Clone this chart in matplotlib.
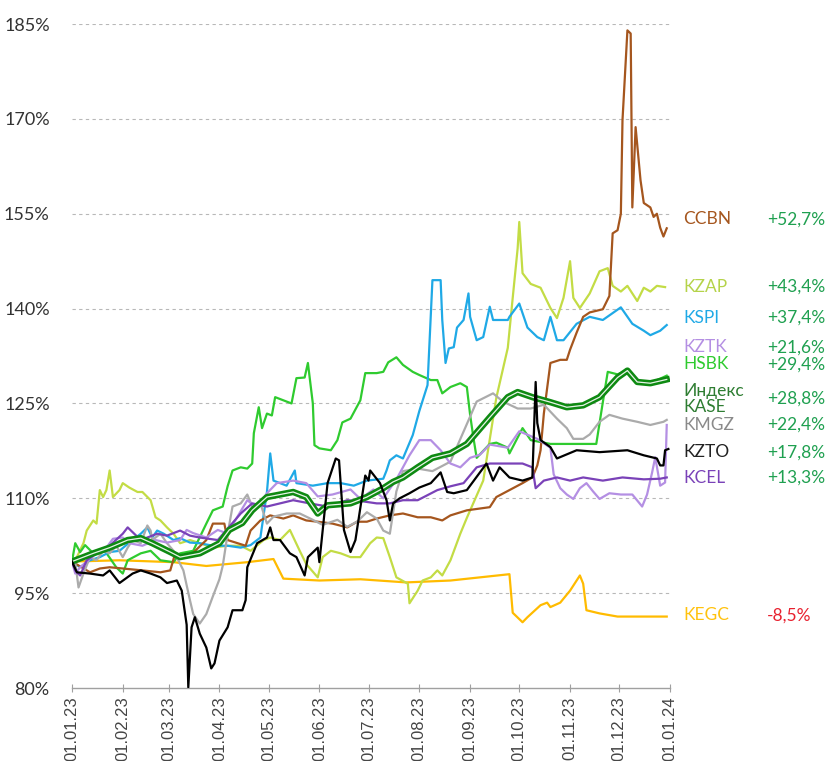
import numpy as np
import pandas as pd
import matplotlib
matplotlib.use("Agg")
import matplotlib.pyplot as plt
import matplotlib.dates as mdates
import matplotlib.transforms as mtransforms

# (days since 01.01.23, index level in %)
CCBN = [(0, 100), (11, 98.3), (17, 98.9), (23, 99.1), (43, 98.6), (54, 98.3), (60, 98.6),
        (63, 101.3), (65, 100.7), (72, 100.9), (82, 103.4), (86, 106.0), (93, 106.0),
        (95, 103.4), (106, 102.5), (109, 104.9), (115, 106.5), (121, 107.3), (129, 106.8),
        (135, 107.3), (143, 106.5), (150, 106.3), (159, 106.0), (168, 105.4), (174, 106.3),
        (180, 106.3), (186, 106.8), (194, 107.3), (202, 107.6), (211, 107.0), (219, 107.0),
        (226, 106.5), (231, 107.3), (241, 108.1), (255, 108.6), (259, 110.2), (267, 111.3),
        (275, 112.4), (281, 113.3), (284, 115.2), (286, 117.6), (288, 123.4), (292, 131.4),
        (298, 131.9), (302, 131.9), (304, 133.5), (308, 136.2), (312, 138.7), (316, 139.4),
        (324, 139.9), (328, 142.0), (330, 151.9), (333, 152.4), (335, 155.0), (336, 169.8),
        (339, 184.0), (341, 183.5), (342, 156.0), (344, 168.7), (347, 160.3), (349, 156.7),
        (353, 156.0), (355, 154.5), (357, 155.0), (359, 152.8), (361, 151.4), (363, 152.7)]

KZAP = [(0, 100), (3, 100.7), (7, 102.9), (9, 104.9), (13, 106.5), (15, 106.0), (17, 111.3),
        (19, 110.2), (21, 111.3), (23, 114.4), (25, 110.2), (29, 111.3), (31, 112.4),
        (35, 111.7), (40, 111.0), (43, 111.0), (48, 109.7), (51, 107.0), (54, 106.5),
        (58, 105.4), (62, 104.4), (66, 102.9), (72, 103.4), (78, 102.9), (86, 102.2),
        (95, 102.5), (103, 102.5), (109, 101.7), (117, 103.4), (121, 103.8), (127, 103.4),
        (133, 105.0), (139, 101.7), (143, 99.6), (150, 97.5), (153, 100.7), (158, 101.7),
        (164, 101.3), (170, 100.7), (176, 100.7), (182, 102.9), (186, 103.8), (190, 103.7),
        (194, 100.7), (198, 97.5), (205, 96.5), (206, 93.4), (211, 95.4), (214, 97.0),
        (219, 97.5), (223, 98.6), (226, 97.8), (231, 100.2), (237, 104.4), (241, 106.9),
        (251, 112.8), (259, 125.9), (266, 133.8), (269, 141.7), (272, 149.5), (273, 153.7),
        (275, 145.6), (280, 143.9), (286, 143.3), (292, 140.1), (296, 138.5), (300, 141.7),
        (304, 147.5), (306, 141.7), (310, 140.1), (316, 142.4), (322, 145.9), (327, 146.4),
        (330, 143.6), (335, 142.7), (339, 143.6), (345, 141.2), (349, 143.3), (353, 142.7),
        (357, 143.6), (362, 143.4)]

KSPI = [(0, 100), (5, 99.1), (11, 100.2), (17, 100.7), (23, 101.5), (29, 101.7), (35, 103.0),
        (42, 104.4), (46, 105.4), (49, 103.8), (52, 104.9), (56, 104.4), (62, 103.4),
        (66, 103.7), (72, 103.0), (78, 102.9), (86, 102.5), (95, 102.5), (103, 102.2),
        (109, 102.6), (115, 103.8), (119, 111.0), (121, 117.1), (123, 112.8), (131, 112.0),
        (136, 114.4), (137, 112.4), (147, 112.0), (156, 112.4), (164, 112.4), (172, 112.0),
        (180, 112.8), (190, 113.1), (192, 114.4), (194, 116.0), (198, 116.8), (202, 116.3),
        (208, 120.0), (212, 123.8), (217, 127.9), (220, 144.5), (225, 144.5), (226, 138.2),
        (228, 131.4), (230, 133.7), (233, 133.9), (235, 137.0), (239, 138.2), (242, 142.4),
        (243, 138.7), (247, 135.0), (251, 135.5), (255, 140.3), (257, 138.2), (266, 138.2),
        (267, 138.7), (273, 140.8), (278, 137.0), (284, 135.5), (288, 135.0), (292, 138.7),
        (296, 135.0), (300, 135.0), (308, 137.6), (316, 138.7), (324, 138.2), (335, 140.2),
        (342, 137.6), (349, 136.5), (353, 135.8), (359, 136.5), (363, 137.4)]

KZTK = [(0, 100), (2, 98.1), (5, 99.1), (13, 100.9), (21, 102.2), (25, 103.6), (31, 103.8),
        (35, 102.9), (43, 102.5), (51, 103.4), (58, 103.0), (66, 103.4), (70, 105.0),
        (74, 104.5), (82, 103.8), (89, 105.0), (95, 104.4), (101, 107.1), (107, 109.7),
        (113, 108.5), (119, 110.8), (125, 112.4), (135, 112.8), (143, 112.4), (150, 110.3),
        (159, 110.6), (170, 111.4), (176, 109.9), (184, 111.4), (190, 110.0), (198, 113.0),
        (206, 116.8), (212, 119.2), (219, 119.2), (225, 117.6), (231, 115.5), (237, 114.9),
        (243, 116.4), (249, 116.9), (255, 118.5), (266, 118.0), (273, 120.6), (284, 119.4),
        (292, 118.0), (294, 113.8), (298, 111.6), (302, 110.6), (306, 109.9), (310, 111.6),
        (314, 112.4), (318, 111.1), (322, 109.9), (328, 110.8), (335, 110.6), (342, 110.6),
        (348, 108.7), (351, 110.6), (354, 114.0), (356, 116.5), (359, 112.0), (362, 112.5),
        (363, 121.6)]

HSBK = [(0, 100), (2, 102.9), (5, 101.5), (8, 102.6), (13, 101.3), (19, 102.1), (27, 99.1),
        (31, 98.1), (34, 100.2), (42, 101.3), (48, 101.7), (54, 100.2), (62, 99.9),
        (66, 101.3), (74, 101.7), (82, 106.0), (86, 108.1), (92, 108.7), (95, 111.9),
        (98, 114.4), (103, 114.9), (107, 114.7), (110, 115.5), (111, 120.3), (114, 124.4),
        (116, 121.1), (119, 123.4), (122, 123.1), (124, 126.0), (129, 125.5), (134, 125.0),
        (137, 129.0), (142, 129.1), (144, 131.4), (147, 125.0), (148, 118.4), (151, 117.9),
        (158, 117.6), (162, 119.2), (165, 122.0), (170, 122.6), (176, 125.5), (179, 129.8),
        (186, 129.8), (190, 130.0), (193, 131.5), (198, 132.3), (202, 131.1), (208, 130.0),
        (212, 129.5), (219, 128.7), (223, 128.7), (226, 126.6), (231, 127.6), (237, 128.2),
        (241, 127.6), (243, 123.2), (245, 119.6), (247, 116.4), (255, 118.6), (259, 118.8),
        (266, 118.0), (267, 117.1), (272, 119.6), (275, 121.1), (280, 119.2), (292, 118.6),
        (307, 118.6), (320, 118.6), (324, 125.2), (327, 130.0), (333, 129.6), (339, 130.3),
        (345, 128.4), (353, 128.2), (363, 129.4)]

KASE = [(0, 100), (13, 101.3), (23, 102.2), (34, 103.4), (42, 103.7), (49, 102.9), (60, 101.5),
        (66, 100.7), (78, 101.3), (90, 102.9), (96, 105.0), (104, 106.1), (110, 108.1),
        (119, 110.2), (135, 111.0), (143, 110.2), (150, 107.6), (156, 108.9), (170, 109.2),
        (180, 110.2), (190, 111.6), (196, 112.6), (202, 113.3), (211, 114.9), (220, 116.4),
        (231, 117.1), (241, 118.6), (255, 122.8), (266, 126.0), (272, 126.8), (281, 126.0),
        (292, 125.2), (302, 124.4), (312, 124.7), (322, 126.0), (333, 129.1), (339, 130.2),
        (345, 128.4), (353, 128.2), (363, 128.8)]

KMGZ = [(0, 100), (2, 99.9), (4, 95.9), (7, 98.1), (11, 100.7), (15, 100.2), (19, 101.7),
        (23, 101.3), (27, 102.5), (31, 100.7), (34, 102.2), (37, 103.4), (42, 102.9),
        (46, 105.7), (48, 104.9), (49, 103.4), (54, 104.4), (58, 102.9), (62, 101.7),
        (68, 98.6), (72, 93.9), (74, 91.7), (78, 90.2), (82, 91.7), (86, 94.5), (90, 97.2),
        (92, 99.3), (95, 104.4), (98, 108.7), (103, 109.2), (107, 110.6), (110, 108.7),
        (115, 109.2), (119, 106.0), (123, 107.1), (131, 107.6), (139, 107.6), (147, 106.6),
        (153, 105.8), (162, 106.6), (168, 105.5), (174, 106.3), (180, 107.8), (186, 106.8),
        (190, 104.9), (194, 104.4), (198, 111.1), (202, 114.3), (211, 114.7), (220, 114.3),
        (231, 115.8), (247, 125.3), (257, 126.6), (263, 125.3), (272, 124.2), (280, 124.2),
        (288, 124.8), (296, 122.6), (302, 121.1), (306, 119.4), (312, 119.4), (316, 120.1),
        (322, 122.1), (328, 123.2), (336, 122.6), (345, 122.1), (353, 121.6), (361, 122.1),
        (363, 122.4)]

KZTO = [(0, 100), (3, 98.3), (11, 98.1), (19, 97.8), (23, 98.6), (29, 96.6), (37, 98.1),
        (42, 98.6), (48, 98.1), (54, 97.5), (58, 96.6), (64, 97.0), (67, 95.4), (70, 90.0),
        (71, 80.1), (73, 89.6), (75, 91.2), (78, 88.6), (82, 86.4), (85, 83.1), (87, 83.9),
        (90, 87.5), (95, 89.6), (98, 92.3), (104, 92.3), (106, 93.9), (107, 99.1),
        (113, 102.9), (119, 103.8), (121, 105.4), (123, 103.4), (127, 103.4), (133, 101.3),
        (137, 100.7), (142, 97.8), (144, 100.7), (150, 102.2), (151, 99.9), (156, 112.4),
        (161, 116.3), (163, 116.0), (166, 105.0), (170, 101.5), (173, 103.4), (179, 113.6),
        (181, 112.8), (182, 114.4), (188, 112.4), (192, 109.7), (194, 106.5), (196, 109.2),
        (200, 110.0), (206, 110.8), (212, 111.7), (219, 112.4), (225, 114.1), (229, 111.0),
        (233, 110.8), (241, 111.3), (253, 115.5), (257, 112.8), (261, 114.9), (267, 113.3),
        (275, 112.8), (281, 113.3), (283, 128.4), (284, 121.9), (286, 119.2), (292, 118.1),
        (296, 116.3), (308, 117.6), (322, 117.3), (339, 117.6), (349, 116.8), (357, 116.3),
        (359, 115.2), (361, 115.2), (362, 117.6), (364, 117.8)]

KCEL = [(0, 100), (2, 98.6), (5, 97.8), (9, 100.2), (15, 101.3), (23, 102.5), (31, 104.4),
        (34, 105.4), (42, 103.4), (52, 104.4), (58, 104.1), (66, 104.9), (72, 104.1),
        (78, 103.8), (89, 103.4), (103, 107.6), (110, 109.2), (119, 108.7), (135, 109.7),
        (145, 109.2), (156, 108.7), (168, 109.7), (178, 109.5), (186, 109.2), (194, 109.2),
        (202, 109.7), (211, 109.7), (223, 111.3), (231, 111.9), (239, 112.4), (247, 114.9),
        (255, 115.5), (266, 115.5), (275, 115.5), (281, 114.9), (283, 111.6), (288, 112.8),
        (296, 113.3), (304, 112.8), (312, 113.3), (324, 112.8), (336, 113.3), (349, 113.0),
        (359, 113.1), (363, 113.3)]

KEGC = [(0, 100), (29, 100.2), (62, 99.9), (82, 99.3), (107, 99.9), (123, 100.4), (129, 97.3),
        (151, 97.0), (176, 97.2), (204, 96.7), (231, 97.0), (267, 98.0), (269, 91.9),
        (275, 90.4), (278, 91.2), (286, 93.1), (290, 93.5), (292, 92.8), (298, 93.5),
        (304, 95.4), (310, 97.8), (312, 96.5), (314, 92.3), (322, 91.8), (333, 91.3),
        (363, 91.3)]

# right-hand labels: name, label level (%), change text
LABELS = [
    ("CCBN", 154.1, "+52,7%"),
    ("KZAP", 143.4, "+43,4%"),
    ("KSPI", 138.5, "+37,4%"),
    ("KZTK", 133.9, "+21,6%"),
    ("HSBK", 131.2, "+29,4%"),
    ("Индекс\nKASE", 125.7, "+28,8%"),
    ("KMGZ", 121.6, "+22,4%"),
    ("KZTO", 117.3, "+17,8%"),
    ("KCEL", 113.2, "+13,3%"),
    ("KEGC", 91.5, "-8,5%"),
]

COLORS = {
    "CCBN": "#A5561E",
    "KZAP": "#C3DC45",
    "KSPI": "#1FA9E6",
    "KZTK": "#B48FE3",
    "HSBK": "#2FCB2F",
    "KASE": "#0E8A12",
    "KMGZ": "#ABABAB",
    "KZTO": "#000000",
    "KCEL": "#7A42B8",
    "KEGC": "#FFBB00",
}
LABEL_COLORS = dict(COLORS, KASE="#2E7D32", KMGZ="#8A8A8A", KZTO="#222222",
                    KZAP="#B5D34A", KEGC="#FFC20E")
UP = "#1FA050"
DOWN = "#E8212F"

BASE = pd.Timestamp("2023-01-01")

plt.rcParams["font.family"] = ["Lato", "DejaVu Sans"]

fig = plt.figure(figsize=(8.32, 7.61), dpi=100)
ax = fig.add_axes([0.0865, 0.0959, 0.7188, 0.8725])


def xy(series):
    d, v = zip(*series)
    return BASE + pd.to_timedelta(np.array(d), unit="D"), np.array(v)


order = ["KEGC", "KZAP", "HSBK", "KSPI", "CCBN", "KMGZ", "KZTK", "KCEL"]
data = {"CCBN": CCBN, "KZAP": KZAP, "KSPI": KSPI, "KZTK": KZTK, "HSBK": HSBK,
        "KMGZ": KMGZ, "KCEL": KCEL, "KEGC": KEGC}
for name in order:
    x, y = xy(data[name])
    ax.plot(x, y, color=COLORS[name], lw=1.6, zorder=3, solid_joinstyle="round")

x, y = xy(KASE)
ax.plot(x, y, color=COLORS["KASE"], lw=4.6, zorder=4, solid_joinstyle="round")
ax.plot(x, y, color="white", lw=0.9, zorder=5, alpha=0.9)

x, y = xy(KZTO)
ax.plot(x, y, color=COLORS["KZTO"], lw=1.6, zorder=6, solid_joinstyle="round")

ax.set_xlim(BASE, pd.Timestamp("2024-01-01"))
ax.set_ylim(80, 185)
ax.set_yticks(np.arange(80, 186, 15))
ax.yaxis.set_major_formatter(plt.FuncFormatter(lambda v, _: f"{v:.0f}%"))
ax.xaxis.set_major_locator(mdates.MonthLocator())
ax.xaxis.set_major_formatter(mdates.DateFormatter("%d.%m.%y"))

for s in ("top", "right", "left"):
    ax.spines[s].set_visible(False)
ax.spines["bottom"].set_color("#A0A0A0")
ax.spines["bottom"].set_linewidth(1.0)
ax.tick_params(axis="y", length=0, pad=16, labelsize=13, labelcolor="#333333")
ax.tick_params(axis="x", direction="inout", length=6, color="#A0A0A0", pad=3,
               labelrotation=90, labelsize=12, labelcolor="#444444")
for lab in ax.get_xticklabels():
    lab.set_family(["Liberation Sans", "DejaVu Sans"])

for v in np.arange(95, 186, 15):
    ax.axhline(v, color="#B8B8B8", lw=0.8, ls=(0, (3, 3)), zorder=1)

trans = mtransforms.blended_transform_factory(ax.transAxes, ax.transData)
for name, level, change in LABELS:
    key = "KASE" if "KASE" in name else name
    ax.text(1.022, level, name, transform=trans, ha="left", va="center",
            fontsize=12.5, color=LABEL_COLORS[key], clip_on=False,
            linespacing=1.05)
    ax.text(1.162, level, change, transform=trans, ha="left", va="center",
            fontsize=12.5, color=DOWN if change.startswith("-") else UP,
            clip_on=False)

fig.savefig("out.png", dpi=100)
